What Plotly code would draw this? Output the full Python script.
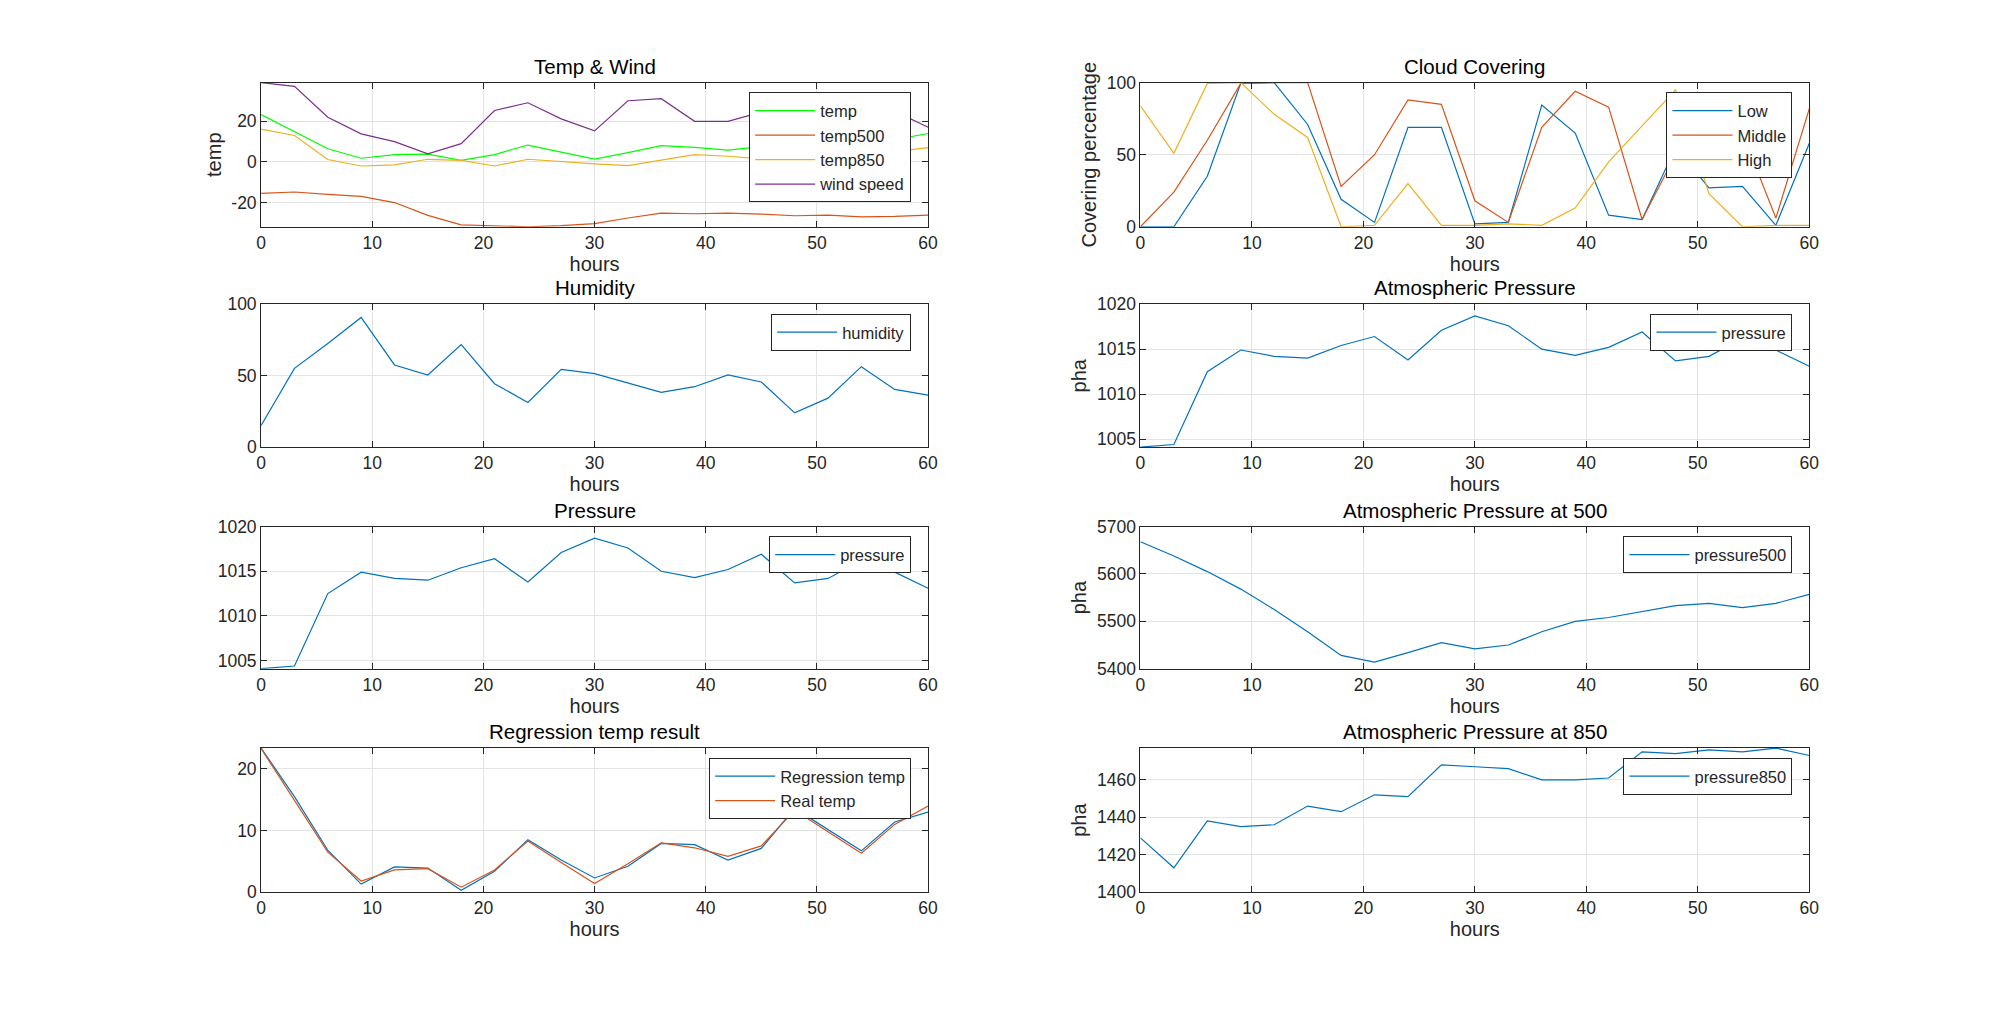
import plotly.graph_objects as go

# ---------------- data ----------------
hours = list(range(0, 61, 3))

temp = [23.3, 15.0, 6.5, 1.8, 3.6, 3.8, 0.8, 3.6, 8.3, 4.8, 1.4, 4.6, 8.0, 7.2, 5.8, 7.5, 13.3, 9.8, 6.3, 11.0, 14.0]
temp500 = [-15.5, -14.8, -16.0, -17.0, -20.0, -26.3, -31.0, -31.6, -31.9, -31.4, -30.4, -27.6, -25.2, -25.5, -25.2, -25.7, -26.5, -26.2, -27.0, -26.8, -26.2]
temp850 = [16.1, 13.0, 1.2, -2.0, -1.5, 1.3, 0.8, -2.0, 1.3, 0.0, -1.0, -1.8, 1.0, 3.6, 2.8, 1.5, 3.0, 3.5, 3.0, 5.0, 7.0]
wind_speed = [39.0, 37.2, 22.0, 13.8, 10.0, 4.0, 9.0, 25.3, 29.1, 21.2, 15.3, 30.1, 31.1, 20.0, 20.0, 24.5, 27.0, 26.0, 22.0, 25.0, 17.1]

cloud_low = [0, 0, 35, 99.5, 100, 71, 19, 3, 69, 69, 2, 3, 84.5, 65, 8, 5, 55, 27, 28, 1, 58]
cloud_middle = [0, 24, 60, 99.5, 100, 100, 28, 50, 88, 85, 18, 3, 69, 94, 83, 5, 50, 80, 65, 6, 82]
cloud_high = [84, 51, 99.5, 100, 78, 62, 0, 1, 30, 1, 1, 2, 1, 13, 45, 70, 95, 23, 0, 1, 1]

humidity = [15.2, 55.1, 72.5, 90.7, 57.5, 50.5, 71.7, 44.4, 31.3, 54.4, 51.4, 45.0, 38.3, 42.3, 50.5, 45.6, 24.0, 34.3, 56.3, 40.4, 36.4]

pressure = [1004.1, 1004.4, 1012.5, 1014.9, 1014.2, 1014.0, 1015.4, 1016.4, 1013.8, 1017.1, 1018.7,
            1017.6, 1015.0, 1014.3, 1015.2, 1016.9, 1013.7, 1014.2, 1016.2, 1014.9, 1013.1]
pressure500 = [5668, 5638, 5605, 5568, 5525, 5478, 5428, 5414, 5434, 5455, 5442, 5450, 5478, 5500, 5508,
               5520, 5533, 5538, 5529, 5538, 5557]
pressure850 = [1429, 1413, 1438, 1435, 1436, 1446, 1443, 1452, 1451, 1468, 1467, 1466, 1460, 1460, 1461,
               1475, 1474, 1476, 1475, 1477, 1473]

regression_temp = [23.4, 15.5, 6.8, 1.3, 4.1, 3.9, 0.3, 3.4, 8.5, 5.2, 2.3, 4.2, 7.9, 7.7, 5.2, 7.1, 13.6, 10.2, 6.7, 11.4, 13.0]
real_temp = temp

x_ticks = [0, 10, 20, 30, 40, 50, 60]

# ---------------- layout helpers ----------------
W, H = 2001, 1013          # browser window
OFF = 8                     # default page body margin
FW, FH = W - 2 * OFF, H - 2 * OFF
FONT = "Liberation Sans, Arial, Helvetica, sans-serif"
INK = "#262626"
GRID = "#e3e3e3"

BLUE = "#0072BD"
ORANGE = "#D95319"
YELLOW = "#EDB120"
PURPLE = "#7E2F8E"
GREEN = "#00FF00"

col_px = {"L": (258, 930), "R": (1144, 1818)}
row_px = {1: (74, 221), 2: (300, 446), 3: (527, 672), 4: (753, 900)}
LEG_INSET_R, LEG_INSET_T = 17, 10


def px_x(px):
    return (px - OFF) / FW


def px_y(py):
    return 1 - (py - OFF) / FH


def xd(col):
    a, b = col_px[col]
    return [px_x(a), px_x(b)]


def yd(row):
    t, b = row_px[row]
    return [px_y(b), px_y(t)]


def tick_text(vals):
    return [str(v) for v in vals]


panels = [
    # (idx, col, row, title, yrange, yticks, ylabel)
    (1, "L", 1, "Temp & Wind", [min(temp500), max(wind_speed)], [-20, 0, 20], "temp"),
    (2, "R", 1, "Cloud Covering", [0, 100], [0, 50, 100], "Covering percentage"),
    (3, "L", 2, "Humidity", [0, 100], [0, 50, 100], None),
    (4, "R", 2, "Atmospheric Pressure", [min(pressure), 1020], [1005, 1010, 1015, 1020], "pha"),
    (5, "L", 3, "Pressure", [min(pressure), 1020], [1005, 1010, 1015, 1020], None),
    (6, "R", 3, "Atmospheric Pressure at 500", [5400, 5700], [5400, 5500, 5600, 5700], "pha"),
    (7, "L", 4, "Regression temp result", [0, max(max(regression_temp), max(real_temp))], [0, 10, 20], None),
    (8, "R", 4, "Atmospheric Pressure at 850", [1400, max(pressure850)], [1400, 1420, 1440, 1460], "pha"),
]

series = {
    1: [("temp", temp, GREEN), ("temp500", temp500, ORANGE), ("temp850", temp850, YELLOW), ("wind speed", wind_speed, PURPLE)],
    2: [("Low", cloud_low, BLUE), ("Middle", cloud_middle, ORANGE), ("High", cloud_high, YELLOW)],
    3: [("humidity", humidity, BLUE)],
    4: [("pressure", pressure, BLUE)],
    5: [("pressure", pressure, BLUE)],
    6: [("pressure500", pressure500, BLUE)],
    7: [("Regression temp", regression_temp, BLUE), ("Real temp", real_temp, ORANGE)],
    8: [("pressure850", pressure850, BLUE)],
}

fig = go.Figure()
layout = dict(
    width=FW, height=FH,
    margin=dict(l=0, r=0, t=0, b=0),
    paper_bgcolor="white", plot_bgcolor="white",
    font=dict(family=FONT, color=INK, size=17),
    annotations=[],
    showlegend=True,
)

for idx, col, row, title, yr, yt, ylab in panels:
    sfx = "" if idx == 1 else str(idx)
    lg = "legend" if idx == 1 else f"legend{idx}"
    for name, vals, color in series[idx]:
        fig.add_trace(go.Scatter(
            x=hours, y=vals, mode="lines", name=name,
            line=dict(color=color, width=1.2),
            xaxis="x" + sfx, yaxis="y" + sfx, legend=lg,
        ))
    common = dict(
        showline=True, linecolor=INK, linewidth=1, mirror="ticks",
        ticks="inside", ticklen=6, tickcolor=INK, tickwidth=1,
        showgrid=True, gridcolor=GRID, gridwidth=1, zeroline=False,
        tickfont=dict(family=FONT, size=17.5, color=INK),
    )
    layout["xaxis" + sfx] = dict(
        domain=xd(col), range=[0, 60], tickvals=x_ticks, ticktext=tick_text(x_ticks), anchor="y" + sfx,
        title=dict(text="hours", font=dict(family=FONT, size=20, color=INK), standoff=4),
        **common,
    )
    yax = dict(domain=yd(row), range=yr, tickvals=yt, ticktext=tick_text(yt), anchor="x" + sfx, **common)
    if ylab:
        yax["title"] = dict(text=ylab, font=dict(family=FONT, size=20, color=INK), standoff=4)
    layout["yaxis" + sfx] = yax
    a, b = col_px[col]
    t, _ = row_px[row]
    layout[lg] = dict(
        x=px_x(b - LEG_INSET_R), y=px_y(t + LEG_INSET_T), xref="paper", yref="paper",
        xanchor="right", yanchor="top",
        bgcolor="white", bordercolor=INK, borderwidth=1,
        font=dict(family=FONT, size=16.5, color=INK),
        itemwidth=60, tracegroupgap=0,
    )
    layout["annotations"].append(dict(
        text=title, xref="paper", yref="paper",
        x=px_x((a + b) / 2), y=yd(row)[1], xanchor="center", yanchor="bottom",
        yshift=3, showarrow=False, font=dict(family=FONT, size=20.5, color="#000000"),
    ))

fig.update_layout(**layout)
fig.write_html("out.html")
